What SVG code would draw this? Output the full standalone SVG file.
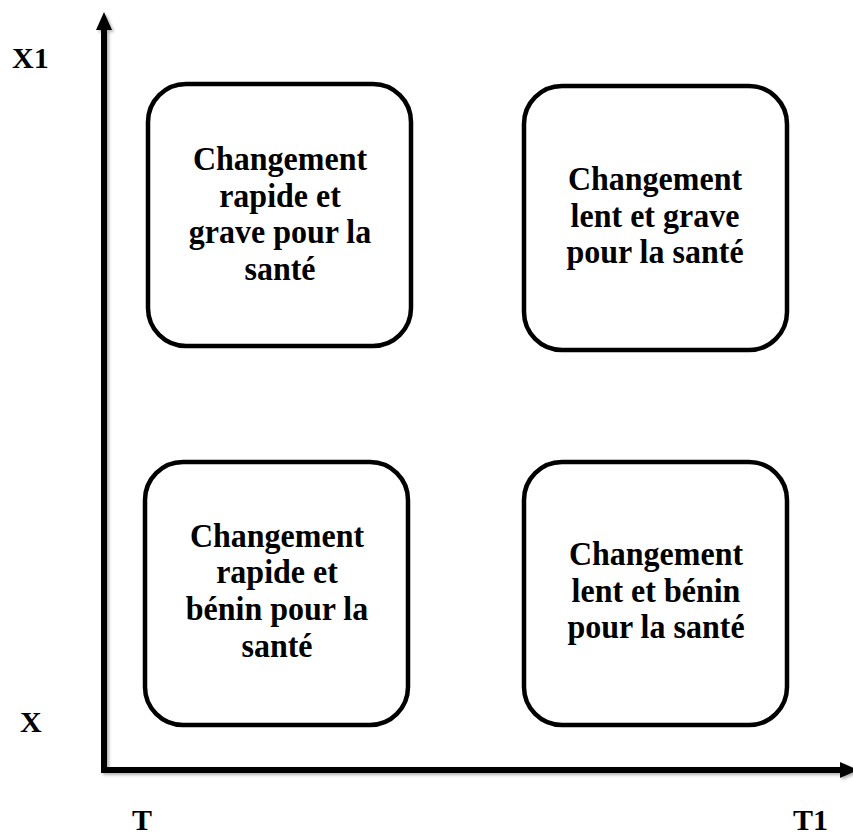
<svg xmlns="http://www.w3.org/2000/svg" width="853" height="832" viewBox="0 0 853 832">
<defs>
<style>
.box{fill:#fff;stroke:#000;stroke-width:4.5}
.t{font-family:"Liberation Serif","Times New Roman",serif;font-weight:bold;font-size:32px;text-anchor:middle;fill:#000}
.lbl{font-family:"Liberation Serif","Times New Roman",serif;font-weight:bold;font-size:30px;fill:#000}
.axis{stroke:#000;stroke-width:6;fill:none}
</style>
<filter id="sh" x="-10%" y="-10%" width="120%" height="120%">
<feDropShadow dx="2" dy="2" stdDeviation="1.5" flood-color="#000" flood-opacity="0.3"/>
</filter>
</defs>
<rect width="853" height="832" fill="#fff"/>
<g id="connectors" filter="url(#sh)">
<path class="axis" d="M104,772 V27"/>
<polygon points="104,12 96,30 112,30" fill="#000"/>
<path class="axis" d="M101,770 H842"/>
<polygon points="858,770 840,762 840,778" fill="#000"/>
</g>
<g id="labels">
<text class="lbl" x="12" y="68">X1</text>
<text class="lbl" x="20" y="732">X</text>
<text class="lbl" x="132" y="830">T</text>
<text class="lbl" x="793" y="830">T1</text>
</g>
<g id="node1">
<rect class="box" x="148" y="84" width="263" height="262" rx="38"/>
<text class="t" transform="translate(280,170) scale(1,1.05)">Changement</text>
<text class="t" transform="translate(280,207) scale(1,1.05)">rapide et</text>
<text class="t" transform="translate(280,243) scale(1,1.05)">grave pour la</text>
<text class="t" transform="translate(280,280) scale(1,1.05)">santé</text>
</g>
<g id="node2">
<rect class="box" x="524" y="86" width="263" height="264" rx="38"/>
<text class="t" transform="translate(655,190) scale(1,1.05)">Changement</text>
<text class="t" transform="translate(655,227) scale(1,1.05)">lent et grave</text>
<text class="t" transform="translate(655,263) scale(1,1.05)">pour la santé</text>
</g>
<g id="node3">
<rect class="box" x="145" y="462" width="263" height="263" rx="38"/>
<text class="t" transform="translate(277,547) scale(1,1.05)">Changement</text>
<text class="t" transform="translate(277,583) scale(1,1.05)">rapide et</text>
<text class="t" transform="translate(277,620) scale(1,1.05)">bénin pour la</text>
<text class="t" transform="translate(277,657) scale(1,1.05)">santé</text>
</g>
<g id="node4">
<rect class="box" x="524" y="462" width="263" height="263" rx="38"/>
<text class="t" transform="translate(656,565) scale(1,1.05)">Changement</text>
<text class="t" transform="translate(656,602) scale(1,1.05)">lent et bénin</text>
<text class="t" transform="translate(656,638) scale(1,1.05)">pour la santé</text>
</g>
</svg>
